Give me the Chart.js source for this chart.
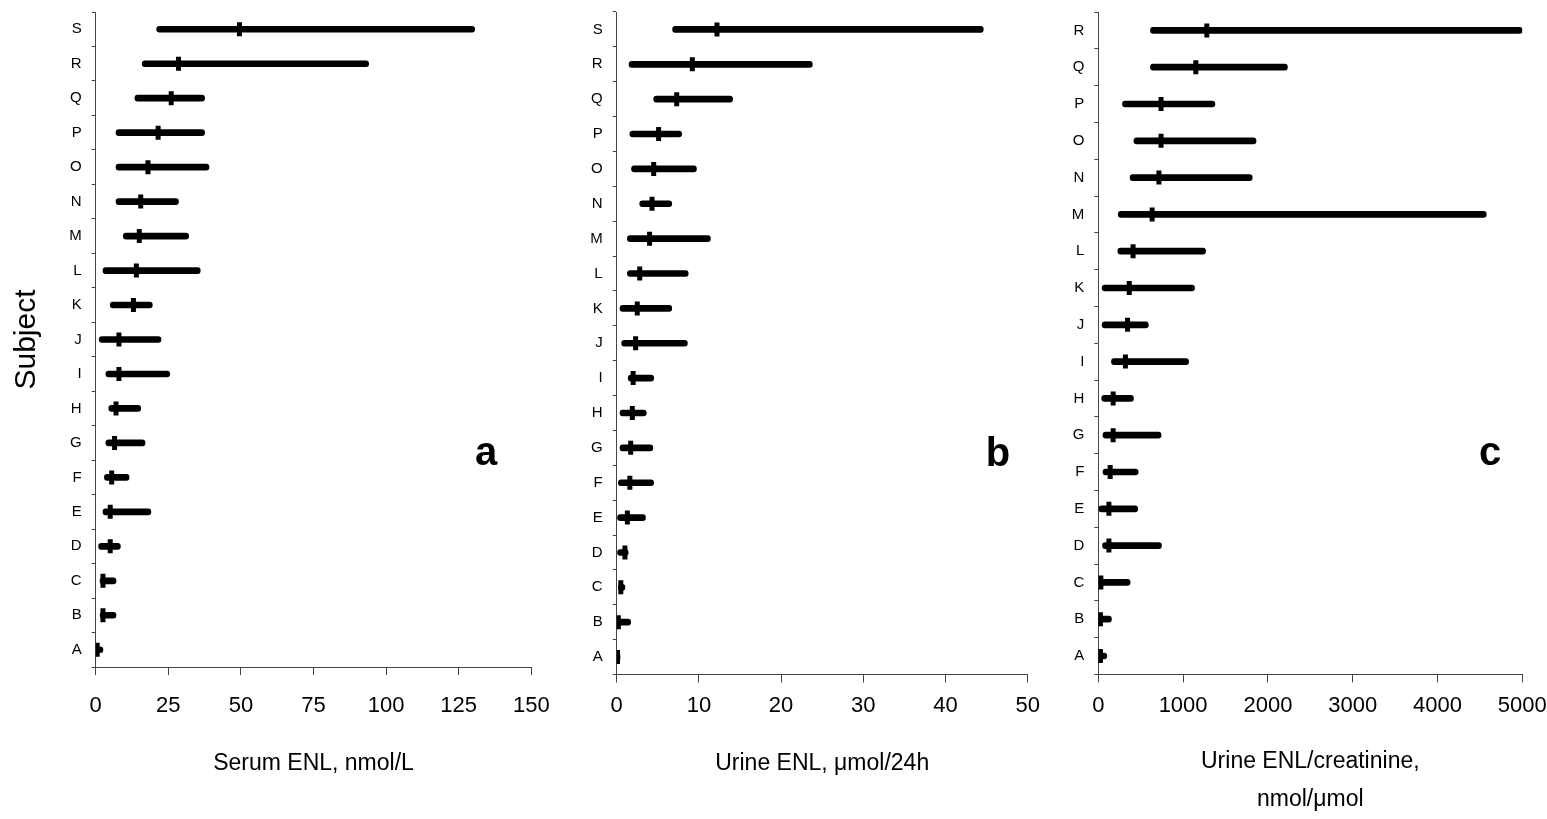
<!DOCTYPE html>
<html>
<head>
<meta charset="utf-8">
<title>Enterolactone ranges by subject</title>
<script src="https://cdn.jsdelivr.net/npm/chart.js@4/dist/chart.umd.min.js"></script>
<style>
  html, body { margin: 0; padding: 0; background: #fff; }
  body { width: 1547px; height: 819px; position: relative; overflow: hidden; }
  canvas { position: absolute; top: 0; }
  #panelA { left: 0; }
  #panelB { left: 560px; }
  #panelC { left: 1047px; }
</style>
</head>
<body>
<canvas id="panelA" width="560" height="819"></canvas>
<canvas id="panelB" width="487" height="819"></canvas>
<canvas id="panelC" width="500" height="819"></canvas>
<script>
// Subjects, listed top to bottom
const subjectsAB = ['S','R','Q','P','O','N','M','L','K','J','I','H','G','F','E','D','C','B','A'];
const subjectsC  = ['R','Q','P','O','N','M','L','K','J','I','H','G','F','E','D','C','B','A'];

// a: serum ENL, nmol/L (range low / median / range high)
const serumLow  = [21, 16, 13.5, 7, 7, 7, 9.5, 2.5, 5, 1.2, 3.5, 4.5, 3.5, 3, 2.5, 1, 1.5, 1.5, 0];
const serumMid  = [49.5, 28.5, 26, 21.5, 18, 15.5, 15, 14, 13, 8, 8, 7, 6.5, 5.5, 5, 5, 2.5, 2.5, 0.5];
const serumHigh = [130.5, 94, 37.5, 37.5, 39, 28.5, 32, 36, 19.5, 22.5, 25.5, 15.5, 17, 11.5, 19, 8.5, 7, 7, 2.5];

// b: urine ENL, µmol/24h
const urineLow  = [6.8, 1.5, 4.5, 1.6, 1.8, 2.8, 1.3, 1.3, 0.4, 0.6, 1.4, 0.4, 0.4, 0.2, 0.1, 0.1, 0.2, 0.1, 0];
const urineMid  = [12.2, 9.2, 7.3, 5.1, 4.5, 4.3, 4.0, 2.8, 2.5, 2.3, 2.0, 1.9, 1.7, 1.6, 1.3, 1.0, 0.5, 0.2, 0.1];
const urineHigh = [44.6, 23.8, 14.1, 7.9, 9.7, 6.7, 11.4, 8.7, 6.7, 8.6, 4.5, 3.6, 4.4, 4.5, 3.5, 1.4, 1.0, 1.7, 0.4];

// c: urine ENL/creatinine, nmol/µmol
const ratioLow  = [615, 615, 285, 420, 375, 235, 230, 45, 45, 155, 40, 55, 55, 0, 50, 0, 0, 0];
const ratioMid  = [1280, 1150, 740, 740, 715, 635, 410, 365, 345, 320, 175, 175, 140, 125, 125, 30, 25, 25];
const ratioHigh = [5000, 2230, 1375, 1860, 1815, 4575, 1265, 1135, 590, 1065, 415, 740, 470, 465, 745, 375, 155, 100];

// Axis ranges and tick steps
const xMaxA = 150, xStepA = 25;
const xMaxB = 50,  xStepB = 10;
const xMaxC = 5000, xStepC = 1000;

const FONT = '"Liberation Sans", Arial, Helvetica, sans-serif';

// Bold panel letter drawn in the empty right part of each panel
const panelLetter = {
  id: 'panelLetter',
  afterDraw(chart, args, opts) {
    const ctx = chart.ctx;
    ctx.save();
    ctx.font = 'bold 40px ' + FONT;
    ctx.fillStyle = '#000';
    ctx.textAlign = 'center';
    ctx.textBaseline = 'alphabetic';
    ctx.fillText(opts.text, opts.x, opts.y);
    ctx.restore();
  }
};

// Fix a scale's thickness and drop the extra room it asks for around labels,
// so the plot area sits exactly where the layout padding puts it
function fixScale(size, horizontal) {
  return function (scale) {
    if (horizontal) scale.height = size; else scale.width = size;
    scale.paddingTop = 0;
    scale.paddingBottom = 0;
    scale.paddingLeft = 0;
    scale.paddingRight = 0;
  };
}

function makePanel(id, labels, low, mid, high, cfg) {
  const ranges = labels.map((_, i) => [low[i], high[i]]);
  return new Chart(document.getElementById(id), {
    type: 'bar',
    data: {
      labels: labels,
      datasets: [
        {
          type: 'line',
          label: 'median',
          data: mid,
          indexAxis: 'y',
          showLine: false,
          pointStyle: 'line',
          rotation: 90,
          pointRadius: 7,
          pointBorderWidth: 5,
          borderColor: '#000',
          backgroundColor: '#000',
          order: 0
        },
        {
          type: 'bar',
          label: 'range',
          data: ranges,
          backgroundColor: '#000',
          borderSkipped: false,
          borderRadius: 3,
          barThickness: 6,
          order: 1
        }
      ]
    },
    options: {
      indexAxis: 'y',
      responsive: false,
      animation: false,
      events: [],
      layout: { padding: { top: cfg.top, right: cfg.right, bottom: 0, left: 0 } },
      plugins: {
        legend: { display: false },
        tooltip: { enabled: false },
        panelLetter: cfg.letter
      },
      scales: {
        x: {
          type: 'linear',
          min: 0,
          max: cfg.xMax,
          afterFit: fixScale(cfg.xHeight, true),
          border: { display: true, color: '#444', width: 1 },
          grid: { drawOnChartArea: false, drawTicks: true, tickLength: 8, color: '#444', lineWidth: 1 },
          ticks: {
            stepSize: cfg.xStep,
            color: '#000',
            padding: cfg.xTickPad,
            maxRotation: 0,
            font: { family: FONT, size: 22 },
            callback: (v) => String(v)
          },
          title: {
            display: true,
            text: cfg.xTitle,
            color: '#000',
            font: { family: FONT, size: 23, lineHeight: cfg.titleLH },
            padding: { top: 0, bottom: cfg.titlePadBottom }
          }
        },
        y: {
          type: 'category',
          offset: true,
          afterFit: fixScale(cfg.yWidth, false),
          border: { display: true, color: '#444', width: 1 },
          grid: { offset: true, drawOnChartArea: false, drawTicks: true, tickLength: 4, color: '#444', lineWidth: 1 },
          ticks: {
            color: '#000',
            padding: 10,
            autoSkip: false,
            font: { family: FONT, size: 15 }
          },
          title: {
            display: !!cfg.yTitle,
            text: cfg.yTitle || '',
            color: '#000',
            font: { family: FONT, size: 30 },
            padding: { top: 9, bottom: 0 }
          }
        }
      }
    },
    plugins: [panelLetter]
  });
}

makePanel('panelA', subjectsAB, serumLow, serumMid, serumHigh, {
  top: 11, right: 28.7, xHeight: 152, yWidth: 95.7,
  xMax: xMaxA, xStep: xStepA, xTickPad: 18,
  xTitle: 'Serum ENL, nmol/L', titleLH: 1.2, titlePadBottom: 42,
  yTitle: 'Subject',
  letter: { text: 'a', x: 486, y: 465 }
});

makePanel('panelB', subjectsAB, urineLow, urineMid, urineHigh, {
  top: 10.5, right: 19.3, xHeight: 144.5, yWidth: 56.7,
  xMax: xMaxB, xStep: xStepB, xTickPad: 10.5,
  xTitle: 'Urine ENL, \u03bcmol/24h', titleLH: 1.2, titlePadBottom: 42,
  letter: { text: 'b', x: 438, y: 466 }
});

makePanel('panelC', subjectsC, ratioLow, ratioMid, ratioHigh, {
  top: 11.6, right: 24.7, xHeight: 144.6, yWidth: 51.3,
  xMax: xMaxC, xStep: xStepC, xTickPad: 10.5,
  xTitle: ['Urine ENL/creatinine,', 'nmol/\u03bcmol'], titleLH: '38px', titlePadBottom: 0,
  letter: { text: 'c', x: 443, y: 465 }
});
</script>
</body>
</html>
